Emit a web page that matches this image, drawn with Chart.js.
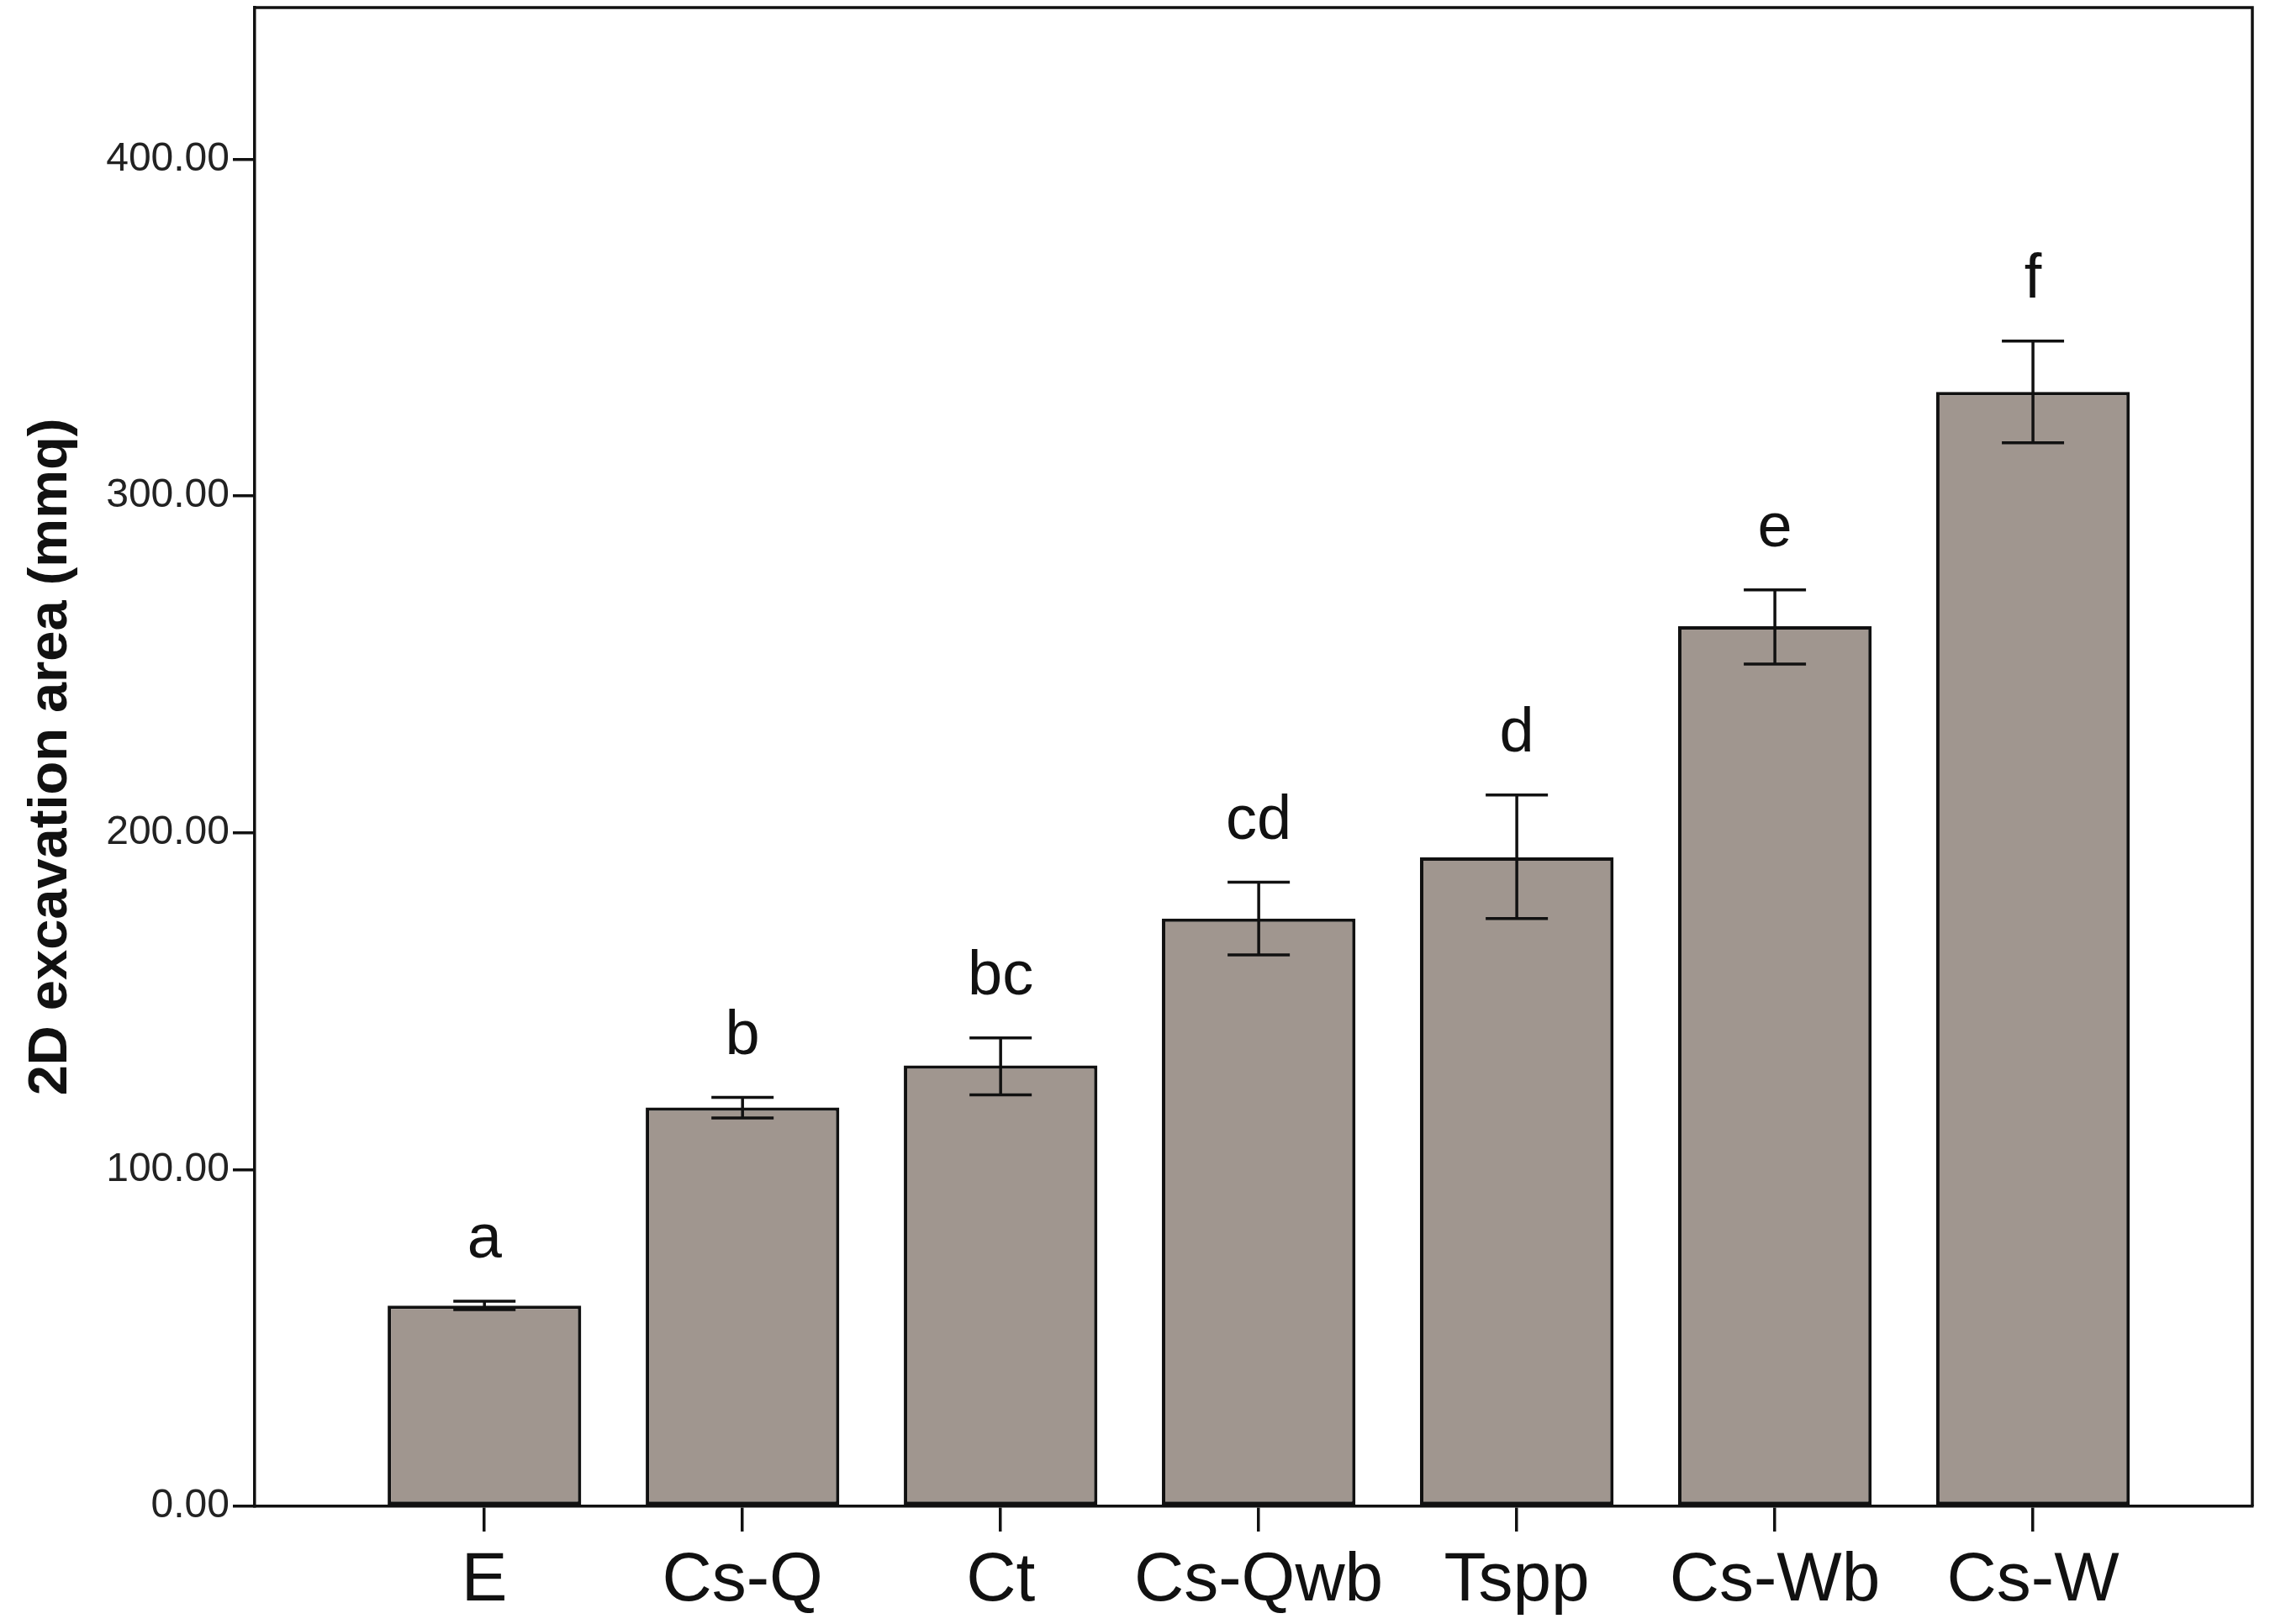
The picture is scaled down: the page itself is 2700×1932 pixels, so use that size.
<!DOCTYPE html>
<html>
<head>
<meta charset="utf-8">
<script src="https://cdn.jsdelivr.net/npm/chart.js@4/dist/chart.umd.min.js"></script>
<style>
  html, body { margin: 0; padding: 0; background: #fff; }
  #wrap { width: 2700px; height: 1932px; }
</style>
</head>
<body>
<div id="wrap"><canvas id="chart"></canvas></div>
<script>
"use strict";

const categories = ["E", "Cs-Q", "Ct", "Cs-Qwb", "Tspp", "Cs-Wb", "Cs-W"];
const means = [59.6, 118.4, 130.9, 174.5, 192.7, 261.3, 330.9];
const errLow = [58.4, 115.3, 122.2, 163.7, 174.5, 250.1, 315.8];
const errHigh = [60.9, 121.4, 139.1, 185.3, 211.2, 272.1, 346.0];
const groupLetters = ["a", "b", "bc", "cd", "d", "e", "f"];
const yTicks = [0, 100, 200, 300, 400];

const FONT = "'Liberation Sans', Arial, sans-serif";

// error bars, significance letters and the frame
const extras = {
    id: "extras",
    afterDatasetsDraw(chart) {
        const { ctx, chartArea, scales: { x, y } } = chart;
        ctx.save();
        ctx.strokeStyle = "#111";
        ctx.lineWidth = 3.5;
        ctx.beginPath();
        ctx.moveTo(chartArea.left, chartArea.top);
        ctx.lineTo(chartArea.right, chartArea.top);
        ctx.lineTo(chartArea.right, chartArea.bottom);
        ctx.stroke();

        const cap = 37;
        categories.forEach((c, i) => {
            const px = x.getPixelForValue(i + 1);
            const lo = y.getPixelForValue(errLow[i]);
            const hi = y.getPixelForValue(errHigh[i]);
            ctx.beginPath();
            ctx.moveTo(px, lo);
            ctx.lineTo(px, hi);
            ctx.moveTo(px - cap, lo);
            ctx.lineTo(px + cap, lo);
            ctx.moveTo(px - cap, hi);
            ctx.lineTo(px + cap, hi);
            ctx.stroke();

            ctx.fillStyle = "#111";
            ctx.font = "74px " + FONT;
            ctx.textAlign = "center";
            ctx.textBaseline = "alphabetic";
            ctx.fillText(groupLetters[i], px, hi - 52);
        });
        ctx.restore();
    }
};

function noPadding(scale) {
    scale.paddingTop = 0;
    scale.paddingBottom = 0;
    scale.paddingLeft = 0;
    scale.paddingRight = 0;
}

new Chart(document.getElementById("chart").getContext("2d"), {
    type: "bar",
    data: {
        datasets: [{
            data: means.map((v, i) => ({ x: i + 1, y: v })),
            backgroundColor: "#a0968f",
            borderColor: "#111",
            borderWidth: 4,
            borderSkipped: false,
            barPercentage: 0.75,
            categoryPercentage: 1
        }]
    },
    options: {
        responsive: true,
        maintainAspectRatio: false,
        devicePixelRatio: 1,
        animation: false,
        layout: { padding: { top: 9, right: 21, left: 0, bottom: 0 } },
        plugins: {
            legend: { display: false },
            tooltip: { enabled: false }
        },
        scales: {
            x: {
                type: "linear",
                min: 0.11,
                max: 7.85,
                offset: false,
                afterBuildTicks(scale) {
                    scale.ticks = categories.map((c, i) => ({ value: i + 1 }));
                },
                afterFit(scale) {
                    scale.height = 140;
                    noPadding(scale);
                },
                grid: {
                    display: true,
                    drawOnChartArea: false,
                    offset: false,
                    tickLength: 30,
                    color: "#111",
                    lineWidth: 3.5
                },
                border: { display: true, color: "#111", width: 3.5 },
                ticks: {
                    autoSkip: false,
                    maxRotation: 0,
                    padding: 10,
                    color: "#111",
                    font: { family: FONT, size: 82, lineHeight: 1.2 },
                    callback: (v) => categories[v - 1]
                }
            },
            y: {
                min: 0,
                max: 445,
                afterBuildTicks(scale) {
                    scale.ticks = yTicks.map((v) => ({ value: v }));
                },
                afterFit(scale) {
                    scale.width = 303;
                    noPadding(scale);
                },
                grid: {
                    display: true,
                    drawOnChartArea: false,
                    tickLength: 26,
                    color: "#111",
                    lineWidth: 3.5
                },
                border: { display: true, color: "#111", width: 3.5 },
                ticks: {
                    padding: 4,
                    color: "#222",
                    font: { family: FONT, size: 48 },
                    callback: (v) => Number(v).toFixed(2)
                },
                title: {
                    display: true,
                    text: "2D excavation area (mmq)",
                    color: "#111",
                    padding: { top: 22, bottom: 0 },
                    font: { family: FONT, size: 65, weight: "bold", lineHeight: 1.2 }
                }
            }
        }
    },
    plugins: [extras]
});
</script>
</body>
</html>
